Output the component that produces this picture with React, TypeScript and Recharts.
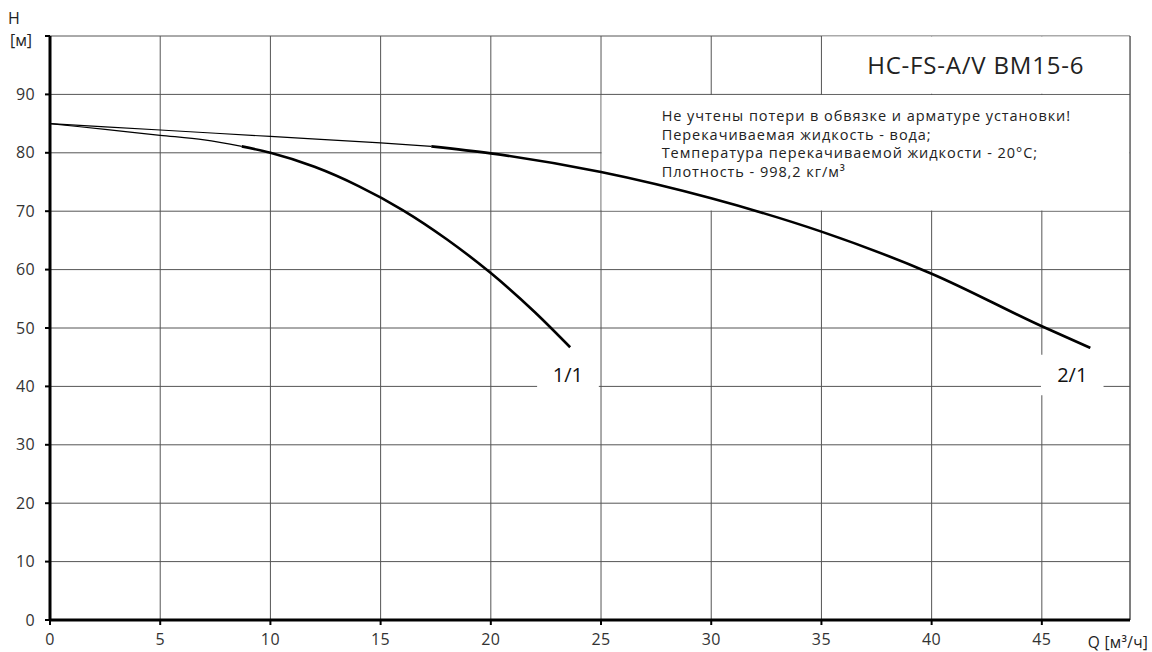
import React from "react";
import {
  LineChart,
  Line,
  XAxis,
  YAxis,
  CartesianGrid,
  ReferenceArea,
  ReferenceLine,
} from "recharts";

// curve 1/1: thin (extrapolated) part, then the working range
const Q11_THIN = [0, 2.5, 5, 7, 8.7];
const H11_THIN = [85, 84, 83, 82.2, 81.1];
const Q11 = [8.7, 10, 12, 14, 16, 18, 20, 22, 23.6];
const H11 = [81.1, 80, 77.6, 74.3, 70.2, 65.2, 59.4, 52.7, 46.7];

// curve 2/1
const Q21_THIN = [0, 5, 10, 15, 17.3];
const H21_THIN = [85, 83.9, 82.8, 81.7, 81.1];
const Q21 = [17.3, 20, 25, 30, 35, 40, 45, 47.2];
const H21 = [81.1, 79.9, 76.7, 72.2, 66.5, 59.3, 50.3, 46.6];

const X_TICKS = [0, 5, 10, 15, 20, 25, 30, 35, 40, 45];
const Y_TICKS = [0, 10, 20, 30, 40, 50, 60, 70, 80, 90, 100];

const TITLE = "HC-FS-A/V BM15-6";
const NOTES = [
  "Не учтены потери в обвязке и арматуре установки!",
  "Перекачиваемая жидкость - вода;",
  "Температура перекачиваемой жидкости - 20°C;",
  "Плотность - 998,2 кг/м³",
];

const FONT = "'Open Sans', sans-serif";

const zip = (q: number[], h: number[]) => q.map((v, i) => ({ q: v, h: h[i] }));

const notesLabel = (props: any) => {
  const { viewBox } = props;
  const x = viewBox.x + 60;
  const y = viewBox.y + 21;
  return (
    <text x={x} y={y} fontFamily={FONT} fontSize={14.5} letterSpacing={0.95} fill="#222">
      {NOTES.map((t, i) => (
        <tspan key={i} x={x} y={y + i * 18.5} dy="0.35em">
          {t}
        </tspan>
      ))}
    </text>
  );
};

const tickStyle = { fill: "#333", fontSize: 16, fontFamily: FONT, letterSpacing: 0.4 };

export default function App() {
  return (
    <div style={{ position: "absolute", left: 0, top: 0 }}>
      <LineChart
        width={1152}
        height={652}
        margin={{ top: 36, right: 22, left: 0, bottom: 0 }}
      >
        <CartesianGrid stroke="#555" strokeWidth={1} />
        <XAxis
          type="number"
          dataKey="q"
          domain={[0, 49]}
          ticks={X_TICKS}
          height={32}
          allowDataOverflow
          axisLine={{ stroke: "#000", strokeWidth: 3 }}
          tickLine={{ stroke: "#000", strokeWidth: 2 }}
          tickSize={5}
          tickMargin={9}
          tick={tickStyle}
        />
        <YAxis
          type="number"
          domain={[0, 100]}
          ticks={Y_TICKS}
          width={50}
          allowDataOverflow
          axisLine={{ stroke: "#000", strokeWidth: 3 }}
          tickLine={{ stroke: "#000", strokeWidth: 2 }}
          tickSize={5}
          tickMargin={10}
          tickFormatter={(v: number) => (v === 100 ? "" : String(v))}
          tick={tickStyle}
        />
        <ReferenceLine x={49} stroke="#555" strokeWidth={1} />

        {/* white panels over the grid */}
        <ReferenceArea
          x1={25.03}
          x2={48.97}
          y1={70.1}
          y2={89.9}
          fill="#fff"
          fillOpacity={1}
          stroke="none"
          label={notesLabel}
        />
        <ReferenceArea
          x1={35.03}
          x2={48.97}
          y1={90.1}
          y2={99.9}
          fill="#fff"
          fillOpacity={1}
          stroke="none"
          label={{
            value: TITLE,
            position: "center",
            fill: "#222",
            fontSize: 24,
            letterSpacing: 0.8,
            fontFamily: FONT,
          }}
        />
        <ReferenceArea
          x1={22.1}
          x2={24.9}
          y1={38.5}
          y2={45.4}
          fill="#fff"
          fillOpacity={1}
          stroke="none"
          label={{ value: "1/1", position: "center", fill: "#111", fontSize: 20, fontFamily: FONT }}
        />
        <ReferenceArea
          x1={44.96}
          x2={47.8}
          y1={38.5}
          y2={45.4}
          fill="#fff"
          fillOpacity={1}
          stroke="none"
          label={{ value: "2/1", position: "center", fill: "#111", fontSize: 20, fontFamily: FONT }}
        />

        <Line
          data={zip(Q11_THIN, H11_THIN)}
          dataKey="h"
          type="monotone"
          stroke="#000"
          strokeWidth={1.2}
          dot={false}
          isAnimationActive={false}
        />
        <Line
          data={zip(Q11, H11)}
          dataKey="h"
          type="monotone"
          stroke="#000"
          strokeWidth={2.6}
          dot={false}
          isAnimationActive={false}
        />
        <Line
          data={zip(Q21_THIN, H21_THIN)}
          dataKey="h"
          type="monotone"
          stroke="#000"
          strokeWidth={1.2}
          dot={false}
          isAnimationActive={false}
        />
        <Line
          data={zip(Q21, H21)}
          dataKey="h"
          type="monotone"
          stroke="#000"
          strokeWidth={2.6}
          dot={false}
          isAnimationActive={false}
        />

        <text x={14} y={18} textAnchor="middle" dy="0.35em" fontFamily={FONT} fontSize={16} fill="#222">
          H
        </text>
        <text x={21} y={40} textAnchor="middle" dy="0.35em" fontFamily={FONT} fontSize={16} fill="#222">
          [м]
        </text>
        <text x={1118} y={643} textAnchor="middle" dy="0.35em" fontFamily={FONT} fontSize={15.5} letterSpacing={0.3} fill="#222">
          Q [м³/ч]
        </text>
      </LineChart>
    </div>
  );
}
